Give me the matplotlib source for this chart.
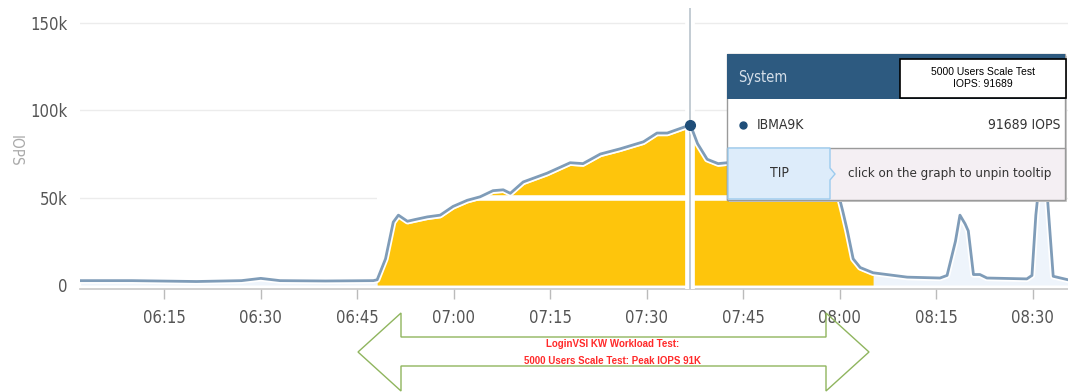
import matplotlib.pyplot as plt
import matplotlib.patheffects as pe
from matplotlib.patches import Rectangle, Polygon
from matplotlib import font_manager
import numpy as np

# IOPS trace: minutes after 06:00 and IOPS in thousands
minutes = [2, 10, 20, 27, 30, 33, 40, 47.5, 48.1, 49.4, 50.6, 51.4, 52.8, 54.0,
           55.9, 57.9, 59.9, 62.1, 64.1, 66.1, 67.7, 68.8, 70.8, 74.5, 78.1, 80.1,
           82.8, 85.9, 89.5, 91.6, 93.2, 96.8, 97.9, 99.4, 101.1, 102.5, 107.6,
           113.9, 118.5, 119.4, 120.5, 121.2, 122.1, 123.2, 125.2, 130.5, 135.6,
           136.7, 138.0, 138.7, 139.5, 140.0, 140.8, 141.8, 142.9, 149.1, 149.9,
           150.5, 151.2, 152.0, 152.7, 153.2, 155.5]
iops_k = [2.5, 2.5, 2.0, 2.5, 3.8, 2.5, 2.3, 2.5, 3, 15, 36, 40, 36.5, 37.5,
          39, 40, 45, 48.5, 50.5, 54, 54.5, 52.5, 59, 64, 70, 69.5,
          75, 78, 82, 87, 87, 91.689, 81, 72, 69.5, 70, 68,
          66, 62, 58, 42, 31, 15, 10, 7, 4.5, 4,
          5.5, 25, 40, 35, 31, 6, 6, 4, 3.5, 5.5,
          40, 65, 65, 30, 5, 3]

tick_minutes = [15, 30, 45, 60, 75, 90, 105, 120, 135, 150]
tick_labels = ['06:15', '06:30', '06:45', '07:00', '07:15', '07:30', '07:45', '08:00', '08:15', '08:30']
ytick_vals = [0, 50, 100, 150]
ytick_labels = ['0', '50k', '100k', '150k']

test_window = (48.1, 125.2)   # LoginVSI run highlighted in yellow
peak_minute = 96.8
peak_iops = 91689


def nf(size):
    # condensed face, closest to the dashboard font
    return font_manager.FontProperties(family='DejaVu Sans', stretch='condensed', size=size)


x = np.array(minutes)
y = np.array(iops_k)

fig = plt.figure(figsize=(10.68, 3.92), dpi=100)
ax = fig.add_axes([80 / 1068, (392 - 288.5) / 392, 988 / 1068, 280.5 / 392])
ax.set_xlim(1.9, 155.5)
ax.set_ylim(-2, 158.6)

# grid
for v in ytick_vals[1:]:
    ax.axhline(v, color='#ececec', lw=1, zorder=0)

ax.fill_between(x, 0, y, color='#eef4fb', zorder=1, lw=0)
in_win = (x >= test_window[0]) & (x <= test_window[1])
ax.fill_between(x, 0, y - 1.5, where=in_win, color='#fec50c', zorder=2, lw=0)
ax.hlines(50, test_window[0], test_window[1], color='white', lw=4, zorder=3)

# crosshair
ax.axvline(peak_minute, color='white', lw=7, zorder=3)
ax.axvline(peak_minute, color='#b9c3cc', lw=1.2, zorder=4)

ax.plot(x, y, color='#7f9cb8', lw=2.0, zorder=5,
        path_effects=[pe.Stroke(linewidth=4.5, foreground='white'), pe.Normal()])
ax.plot([peak_minute], [peak_iops / 1000], 'o', color='#1f4e79', ms=7, zorder=6)

for s in ['top', 'right', 'left']:
    ax.spines[s].set_visible(False)
ax.spines['bottom'].set_color('#c8c8c8')
ax.spines['bottom'].set_linewidth(1.2)

ax.set_xticks(tick_minutes)
ax.set_xticklabels(tick_labels, fontproperties=nf(12), color='#555555')
ax.tick_params(axis='x', length=7, width=1, color='#bbbbbb', pad=8)
ax.set_yticks(ytick_vals)
ax.set_yticklabels(ytick_labels, fontproperties=nf(12), color='#555555')
ax.tick_params(axis='y', length=0, pad=9)
ax.set_ylabel('IOPS', rotation=270, color='#aaaaaa', fontproperties=nf(11))
ax.yaxis.set_label_coords(-0.073, 0.49)

# overlay in pixel coordinates for the tooltip and the annotation arrow
ov = fig.add_axes([0, 0, 1, 1], zorder=10)
ov.set_xlim(0, 1068)
ov.set_ylim(392, 0)
ov.axis('off')
ov.patch.set_alpha(0)

# tooltip
ov.add_patch(Rectangle((729, 56), 338, 146, facecolor='#d0d0d0', lw=0))
ov.add_patch(Rectangle((727, 54), 338, 146, facecolor='white', edgecolor='#9a9a9a', lw=1))
ov.add_patch(Rectangle((727, 54), 338, 45, facecolor='#2d5a80', lw=0))
ov.add_patch(Rectangle((900, 59), 166, 39, facecolor='white', edgecolor='black', lw=1.2))
ov.add_patch(Rectangle((727, 148), 338, 52, facecolor='#f4eff3', edgecolor='#9a9a9a', lw=1))
ov.add_patch(Polygon([(728, 148), (830, 148), (830, 168), (835, 174), (830, 180), (830, 199), (728, 199)],
                     closed=True, facecolor='#ddecfa', edgecolor='#9ccbee', lw=1))
ov.text(738, 77, 'System', color='#d6e0ea', va='center', fontproperties=nf(10.5))
ov.text(983, 72, '5000 Users Scale Test', fontsize=7.5, ha='center', va='center', family='Liberation Sans')
ov.text(983, 84, 'IOPS: %d' % peak_iops, fontsize=7.5, ha='center', va='center', family='Liberation Sans')
ov.plot([743], [125], 'o', color='#1f4e79', ms=5)
ov.text(757, 125, 'IBMA9K', va='center', color='#333333', fontproperties=nf(10))
ov.text(1060, 125, '%d IOPS' % peak_iops, va='center', ha='right', color='#333333', fontproperties=nf(10))
ov.text(779, 173, 'TIP', va='center', ha='center', color='#333333', fontproperties=nf(10))
ov.text(950, 173, 'click on the graph to unpin tooltip', va='center', ha='center',
        color='#333333', fontproperties=nf(9.5))

# double-headed annotation arrow
arrow = [(358, 352), (401, 313), (401, 337), (826, 337), (826, 313), (869, 352),
         (826, 391), (826, 366), (401, 366), (401, 391)]
ov.add_patch(Polygon(arrow, closed=True, facecolor='none', edgecolor='#8fb55e', lw=1))
ov.text(613, 344, 'LoginVSI KW Workload Test:', color='#ff2a2a', fontsize=7, fontweight='bold',
        ha='center', va='center', family='Liberation Sans')
ov.text(613, 361, '5000 Users Scale Test: Peak IOPS 91K', color='#ff2a2a', fontsize=7, fontweight='bold',
        ha='center', va='center', family='Liberation Sans')

fig.savefig('out.png', dpi=100)
